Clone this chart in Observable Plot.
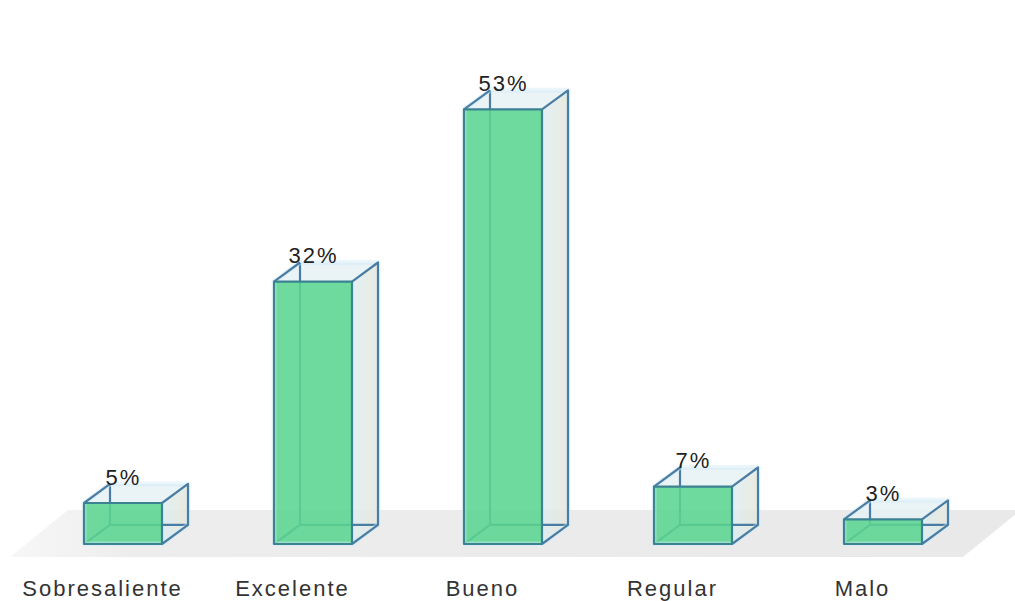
<!DOCTYPE html>
<html>
<head>
<meta charset="utf-8">
<script src="https://cdn.jsdelivr.net/npm/d3@7"></script>
<script src="https://cdn.jsdelivr.net/npm/@observablehq/plot@0.6"></script>
<style>
  body { margin: 0; background: #fff; }
  svg text { letter-spacing: 2px; }
</style>
</head>
<body>
<div id="chart"></div>
<script>
const categories = ["Sobresaliente", "Excelente", "Bueno", "Regular", "Malo"];
const values = [5, 32, 53, 7, 3];
const valueLabels = ["5%", "32%", "53%", "7%", "3%"];

const data = categories.map((c, i) => ({categoria: c, valor: values[i], etiqueta: valueLabels[i]}));

const EDGE = "#4a7da3";
const FRONT_EDGE = "#3b8293";
const GLOW = "#d3ebf8";

// oblique depth of each box, proportional to the band width
const depth = (bw) => ({dx: bw / 3, dy: -bw * 0.245});

// grey parallelogram the boxes stand on
function floor(index, {x, y}) {
  const [r0, r1] = x.range();
  const y0 = y(0);
  const g = d3.create("svg:g");
  const grad = g.append("defs").append("linearGradient")
    .attr("id", "floor-grad").attr("x1", "0").attr("x2", "1");
  grad.append("stop").attr("offset", "0").attr("stop-color", "#f7f7f7");
  grad.append("stop").attr("offset", "0.12").attr("stop-color", "#ededed");
  grad.append("stop").attr("offset", "1").attr("stop-color", "#e9e9e9");
  const front = y0 + 13, back = y0 - 34, left = r0 - 18, right = r1 - 15, shift = 58;
  g.append("path")
    .attr("d", `M${left},${front}L${right},${front}L${right + shift},${back}L${left + shift},${back}Z`)
    .attr("fill", "url(#floor-grad)");
  return g.node();
}

// side and top faces plus the hidden back edges, drawn under the front face
function boxBack(index, {x, y}) {
  const bw = x.bandwidth();
  const {dx, dy} = depth(bw);
  const g = d3.create("svg:g");
  const sg = g.append("defs").append("linearGradient")
    .attr("id", "side-grad").attr("x1", "0").attr("x2", "1");
  sg.append("stop").attr("offset", "0").attr("stop-color", "#dcedf3");
  sg.append("stop").attr("offset", "1").attr("stop-color", "#e7e7da");
  for (const d of data) {
    const x0 = x(d.categoria), x1 = x0 + bw, yt = y(d.valor), yb = y(0);
    g.append("path")
      .attr("d", `M${x0},${yt}L${x0 + dx},${yt + dy}L${x1 + dx},${yt + dy}L${x1},${yt}Z`)
      .attr("fill", "#e6f1f5").attr("fill-opacity", 0.85);
    g.append("path")
      .attr("d", `M${x1},${yb}L${x1 + dx},${yb + dy}L${x1 + dx},${yt + dy}L${x1},${yt}Z`)
      .attr("fill", "url(#side-grad)").attr("fill-opacity", 0.85);
    g.append("path")
      .attr("d", `M${x0},${yb}L${x0 + dx},${yb + dy}L${x1 + dx},${yb + dy}M${x0 + dx},${yb + dy}L${x0 + dx},${yt + dy}`)
      .attr("fill", "none").attr("stroke", EDGE).attr("stroke-width", 2.2);
  }
  return g.node();
}

// visible outline of each box
function boxEdges(index, {x, y}) {
  const bw = x.bandwidth();
  const {dx, dy} = depth(bw);
  const g = d3.create("svg:g").attr("fill", "none").attr("stroke-linejoin", "round");
  for (const d of data) {
    const x0 = x(d.categoria), x1 = x0 + bw, yt = y(d.valor), yb = y(0);
    const outer = `M${x0},${yb}L${x0},${yt}L${x0 + dx},${yt + dy}L${x1 + dx},${yt + dy}L${x1 + dx},${yb + dy}L${x1},${yb}Z`;
    g.append("path").attr("d", outer).attr("stroke", GLOW).attr("stroke-width", 5).attr("stroke-opacity", 0.45);
    g.append("path")
      .attr("d", `M${x1},${yt}L${x1 + dx},${yt + dy}L${x1 + dx},${yb + dy}L${x1},${yb}`)
      .attr("stroke", EDGE).attr("stroke-width", 2.2);
    g.append("path")
      .attr("d", `M${x0},${yt}L${x0 + dx},${yt + dy}`)
      .attr("stroke", EDGE).attr("stroke-width", 2.2);
    g.append("path")
      .attr("d", `M${x0},${yt}L${x1},${yt}L${x1},${yb}L${x0},${yb}Z`)
      .attr("stroke", FRONT_EDGE).attr("stroke-width", 2.2);
  }
  return g.node();
}

const chart = Plot.plot({
  width: 1015,
  height: 601,
  marginTop: 0,
  marginRight: 0,
  marginLeft: 0,
  marginBottom: 6,
  style: {fontFamily: "'Liberation Sans', Arial, sans-serif", background: "#fff"},
  x: {domain: categories, range: [28, 978], paddingInner: 0.589, paddingOuter: 0.2945, axis: null},
  y: {domain: [0, 60], range: [544, 52], axis: null},
  marks: [
    floor,
    boxBack,
    Plot.barY(data, {x: "categoria", y: "valor", fill: "#5bd58f", fillOpacity: 0.88}),
    boxEdges,
    Plot.text(data, {x: "categoria", y: "valor", text: "etiqueta", dy: -19, lineAnchor: "bottom", fontSize: 22, fill: "#222"}),
    Plot.text(categories, {x: (d) => d, text: (d) => d, frameAnchor: "bottom", lineAnchor: "bottom", dx: -21, fontSize: 22, fill: "#333"})
  ]
});

document.getElementById("chart").appendChild(chart);
</script>
</body>
</html>
